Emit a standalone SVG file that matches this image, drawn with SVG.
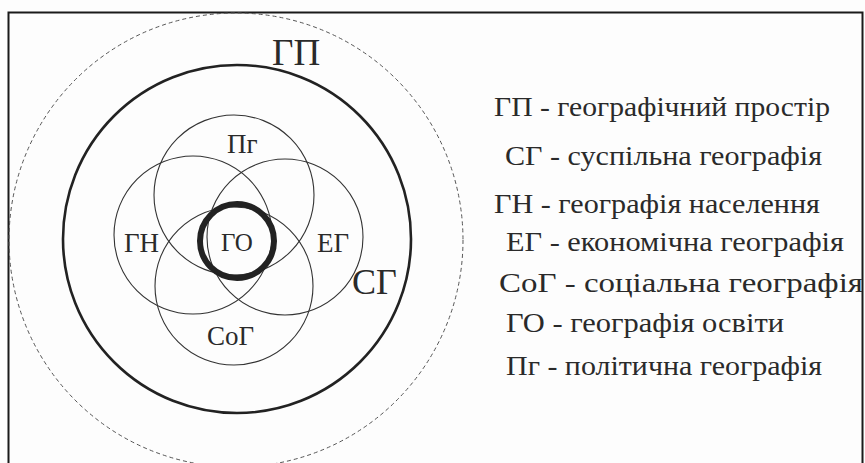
<svg xmlns="http://www.w3.org/2000/svg" width="865" height="463" viewBox="0 0 865 463">
<style>
.t{font-family:"Liberation Serif","Times New Roman","DejaVu Serif",serif;fill:#2a2a2a}
.lg{font-size:28px}
.thin{fill:none;stroke:#333;stroke-width:1.1}
</style>
<rect x="0" y="0" width="865" height="463" fill="#fdfdfd"/>
<rect x="8.5" y="12.5" width="854" height="470" fill="#fdfdfd" stroke="#1a1a1a" stroke-width="2"/>
<g id="gp">
<circle cx="236" cy="240" r="227" fill="none" stroke="#555" stroke-width="1" stroke-dasharray="4,3"/>
<text class="t" x="272" y="65" font-size="37">ГП</text>
</g>
<g id="sg">
<circle cx="237" cy="239" r="174" fill="none" stroke="#222" stroke-width="2.6"/>
<text class="t" x="352" y="294" font-size="36">СГ</text>
</g>
<g id="pg">
<circle class="thin" cx="234" cy="195" r="80"/>
<text class="t" x="227" y="153" font-size="27">Пг</text>
</g>
<g id="gn">
<circle class="thin" cx="193" cy="235" r="79"/>
<text class="t" x="124" y="252" font-size="27">ГН</text>
</g>
<g id="eg">
<circle class="thin" cx="285" cy="237" r="78"/>
<text class="t" x="317" y="252" font-size="27">ЕГ</text>
</g>
<g id="sog">
<circle class="thin" cx="234" cy="286" r="79"/>
<text class="t" x="207" y="345" font-size="27">СоГ</text>
</g>
<g id="go">
<circle cx="237" cy="241" r="37" fill="none" stroke="#222" stroke-width="6"/>
<text class="t" x="221" y="251" font-size="25">ГО</text>
</g>
<g id="legend">
<text class="t lg" x="494" y="116" textLength="336" lengthAdjust="spacingAndGlyphs">ГП - географічний простір</text>
<text class="t lg" x="505" y="165" textLength="317" lengthAdjust="spacingAndGlyphs">СГ - суспільна географія</text>
<text class="t lg" x="494" y="213" textLength="326" lengthAdjust="spacingAndGlyphs">ГН - географія населення</text>
<text class="t lg" x="506" y="251" textLength="338" lengthAdjust="spacingAndGlyphs">ЕГ - економічна географія</text>
<text class="t lg" x="499" y="292" textLength="364" lengthAdjust="spacingAndGlyphs">СоГ - соціальна географія</text>
<text class="t lg" x="506" y="332" textLength="278" lengthAdjust="spacingAndGlyphs">ГО - географія освіти</text>
<text class="t lg" x="506" y="375" textLength="316" lengthAdjust="spacingAndGlyphs">Пг - політична географія</text>
</g>
</svg>
